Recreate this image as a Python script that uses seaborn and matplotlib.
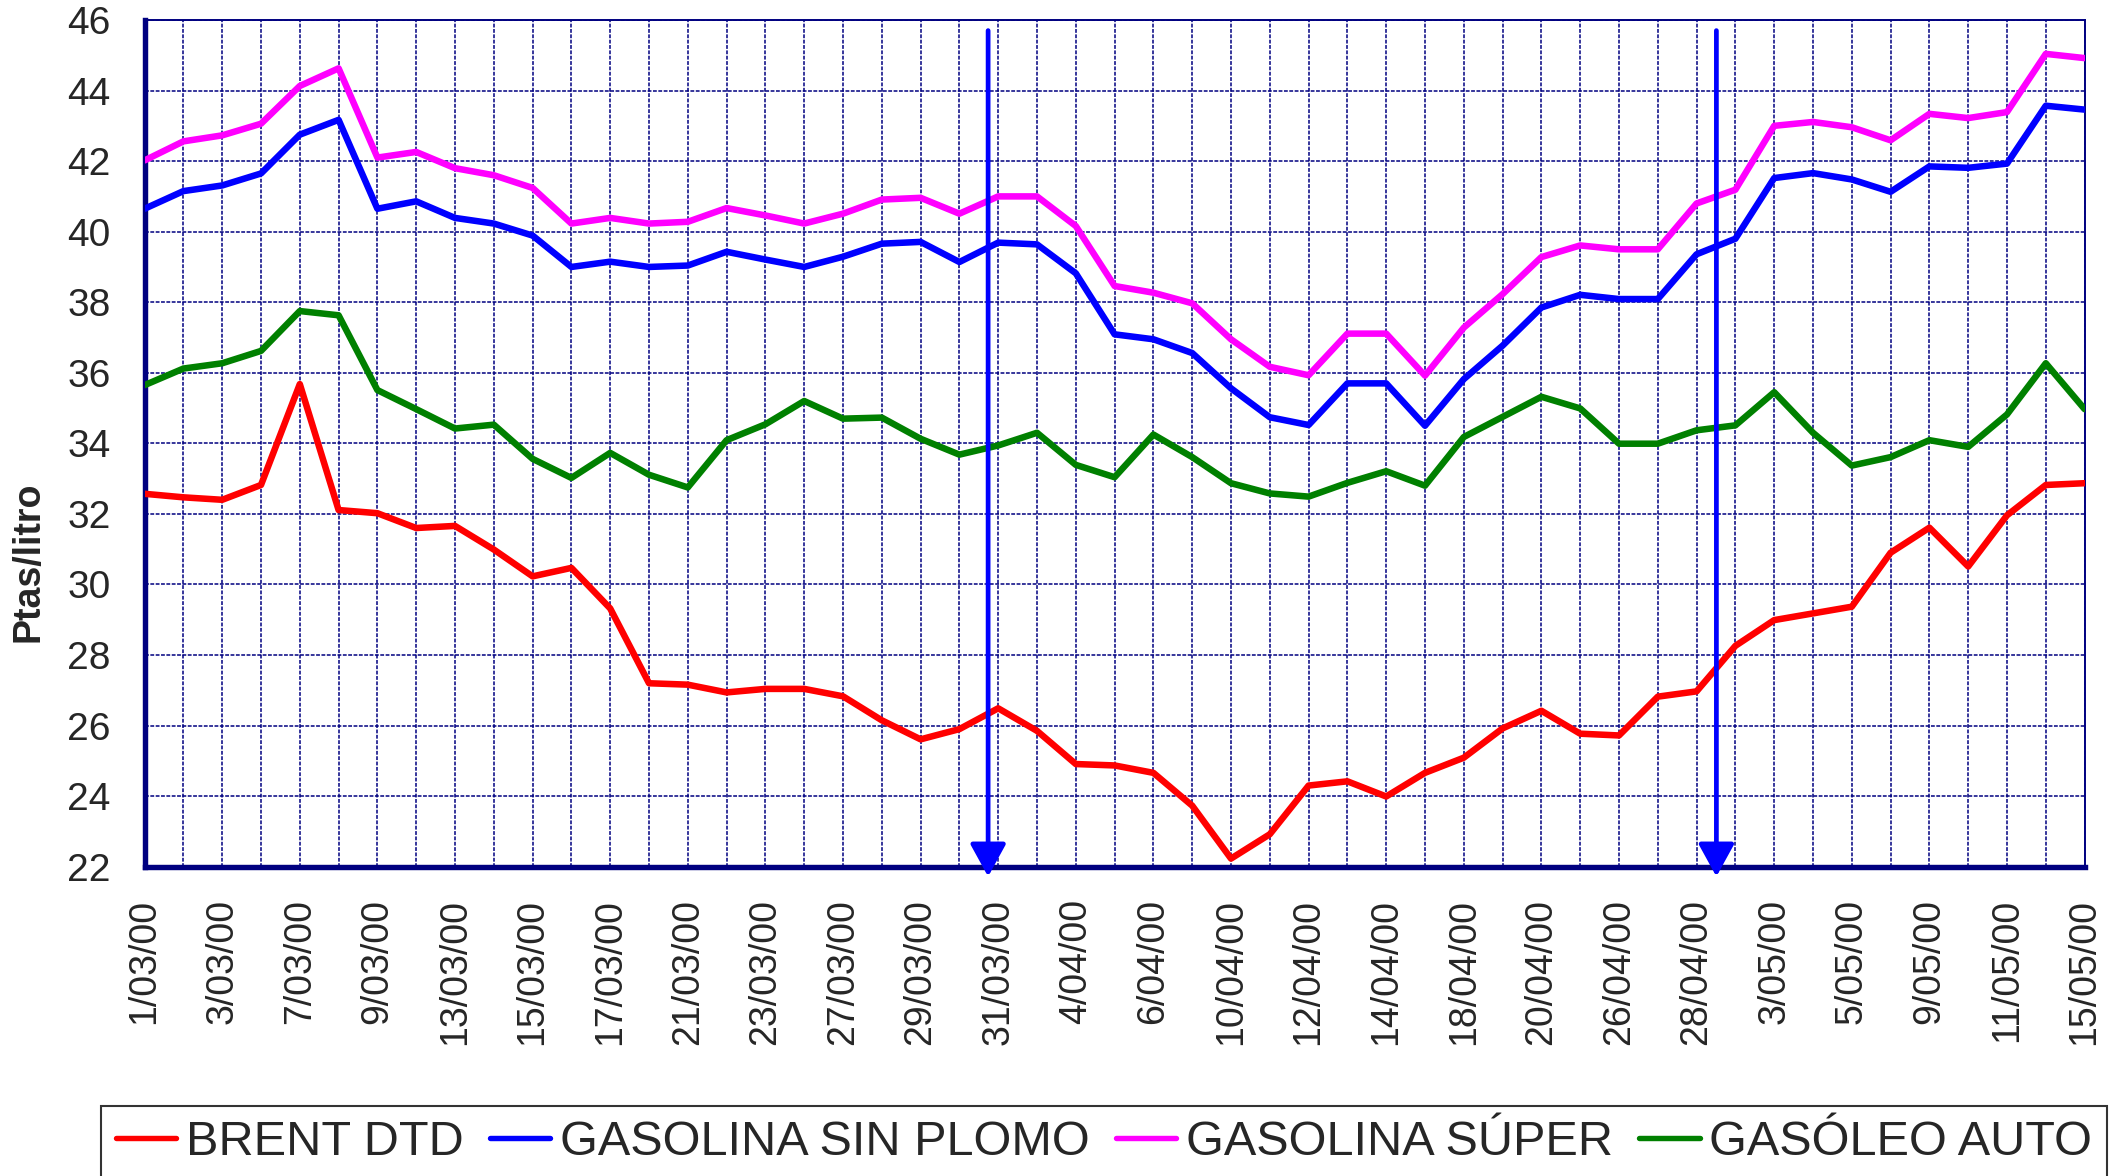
import numpy as np
import pandas as pd
import matplotlib
matplotlib.use("Agg")
import matplotlib.pyplot as plt
import seaborn as sns

# ---------------- data ----------------
dates = ["1/03/00","2/03/00","3/03/00","6/03/00","7/03/00","8/03/00","9/03/00","10/03/00",
         "13/03/00","14/03/00","15/03/00","16/03/00","17/03/00","20/03/00","21/03/00","22/03/00",
         "23/03/00","24/03/00","27/03/00","28/03/00","29/03/00","30/03/00","31/03/00","3/04/00",
         "4/04/00","5/04/00","6/04/00","7/04/00","10/04/00","11/04/00","12/04/00","13/04/00",
         "14/04/00","17/04/00","18/04/00","19/04/00","20/04/00","25/04/00","26/04/00","27/04/00",
         "28/04/00","2/05/00","3/05/00","4/05/00","5/05/00","8/05/00","9/05/00","10/05/00",
         "11/05/00","12/05/00","15/05/00"]

brent = [32.57, 32.47, 32.40, 32.82, 35.68, 32.11, 32.02, 31.60, 31.66, 30.99, 30.23, 30.47,
         29.32, 27.20, 27.16, 26.94, 27.04, 27.04, 26.83, 26.15, 25.61, 25.90, 26.49, 25.85,
         24.91, 24.87, 24.66, 23.73, 22.23, 22.92, 24.30, 24.42, 23.99, 24.66, 25.09, 25.92,
         26.42, 25.77, 25.72, 26.82, 26.97, 28.26, 28.99, 29.18, 29.37, 30.90, 31.61, 30.51,
         31.96, 32.82, 32.87]

sin_plomo = [40.65, 41.15, 41.31, 41.65, 42.75, 43.17, 40.65, 40.86, 40.39, 40.23, 39.89, 39.00,
             39.15, 39.00, 39.04, 39.43, 39.21, 39.00, 39.29, 39.66, 39.71, 39.14, 39.69, 39.64,
             38.82, 37.09, 36.95, 36.56, 35.56, 34.74, 34.52, 35.70, 35.70, 34.50, 35.82, 36.77,
             37.85, 38.21, 38.09, 38.09, 39.36, 39.80, 41.52, 41.66, 41.48, 41.13, 41.85, 41.81,
             41.93, 43.57, 43.46]

super_ = [42.02, 42.56, 42.73, 43.06, 44.13, 44.63, 42.10, 42.26, 41.80, 41.60, 41.24, 40.23,
          40.39, 40.23, 40.28, 40.67, 40.46, 40.23, 40.51, 40.91, 40.96, 40.51, 41.00, 41.00,
          40.16, 38.46, 38.27, 37.97, 36.95, 36.17, 35.93, 37.11, 37.11, 35.92, 37.28, 38.23,
          39.28, 39.61, 39.50, 39.50, 40.80, 41.19, 43.00, 43.11, 42.96, 42.59, 43.34, 43.22,
          43.39, 45.04, 44.92]

gasoleo = [35.65, 36.12, 36.27, 36.62, 37.75, 37.63, 35.51, 34.97, 34.42, 34.53, 33.56, 33.02,
           33.73, 33.11, 32.75, 34.09, 34.54, 35.20, 34.70, 34.73, 34.13, 33.68, 33.94, 34.30,
           33.39, 33.04, 34.25, 33.61, 32.87, 32.58, 32.49, 32.88, 33.21, 32.80, 34.18, 34.75,
           35.32, 34.99, 33.99, 33.99, 34.37, 34.51, 35.45, 34.30, 33.37, 33.61, 34.09, 33.90,
           34.82, 36.27, 34.97]

series_names = ["BRENT DTD", "GASOLINA SIN PLOMO", "GASOLINA SÚPER", "GASÓLEO AUTO"]
series_colors = ["#FF0000", "#0000FF", "#FF00FF", "#008000"]
y_ticks = list(range(22, 47, 2))
arrow_x = [21.74, 40.51]          # position (in day-index units) of the two annotation arrows
arrow_top, arrow_tip = 45.7, 21.72

# ---------------- frame ----------------
n = len(dates)
idx = np.arange(n)
df = pd.concat([
    pd.DataFrame({"idx": idx, "valor": vals, "serie": name})
    for name, vals in zip(series_names, [brent, sin_plomo, super_, gasoleo])
], ignore_index=True)

sns.set_style("white")
plt.rcParams["font.family"] = ["Liberation Sans", "DejaVu Sans"]

W, H = 2123, 1176
fig = plt.figure(figsize=(W / 100, H / 100), dpi=100)
ax = fig.add_axes([144.6 / W, 1 - 866.7 / H, (2084.6 - 144.6) / W, (866.7 - 20) / H])

navy = "#000080"
sns.lineplot(data=df, x="idx", y="valor", hue="serie", hue_order=series_names,
             palette=dict(zip(series_names, series_colors)), linewidth=4.7, ax=ax,
             legend=True, zorder=3, solid_capstyle="round", solid_joinstyle="round")

ax.set_xlim(0, n - 1)
ax.set_ylim(22, 46)
ax.set_xticks(idx)
ax.set_xticklabels([d if i % 2 == 0 else "" for i, d in enumerate(dates)],
                   rotation=90, fontsize=27,
                   family=["Liberation Sans Narrow", "Liberation Sans"])
ax.set_yticks(y_ticks)
ax.set_yticklabels([str(v) for v in y_ticks], fontsize=28)
ax.set_xlabel("")
ax.set_ylabel("")

ax.tick_params(axis="x", direction="inout", length=19.5, width=2.4, color=navy, pad=13.5)
ax.tick_params(axis="y", direction="inout", length=19, width=2.4, color=navy, pad=15)
for t in ax.xaxis.get_major_ticks() + ax.yaxis.get_major_ticks():
    t.tick1line.set_solid_capstyle("round")

ax.grid(True, color=navy, linestyle=(0, (2.5, 1.0)), linewidth=1.1, zorder=0)
ax.set_axisbelow(True)

for side in ["left", "bottom"]:
    ax.spines[side].set_color(navy)
    ax.spines[side].set_linewidth(3.9)
for side in ["top", "right"]:
    ax.spines[side].set_color(navy)
    ax.spines[side].set_linewidth(1.4)

# annotation arrows
for xa in arrow_x:
    ax.annotate("", xy=(xa, arrow_tip), xytext=(xa, arrow_top),
                arrowprops=dict(arrowstyle="-|>,head_length=1.0,head_width=0.55",
                                color="#0000FF", lw=3.4, mutation_scale=20,
                                shrinkA=0, shrinkB=0, capstyle="round"),
                annotation_clip=False, zorder=5)

fig.text(29 / W, 1 - 562 / H, "Ptas/litro", rotation=90, fontsize=27, fontweight="bold",
         ha="center", va="center")

handles, labels = ax.get_legend_handles_labels()
ax.get_legend().remove()
for h in handles:
    h.set_linewidth(3.9)
leg = fig.legend(handles, labels, loc="upper left", ncol=4,
                 bbox_to_anchor=(101 / W, 1 - 1107 / H, (2107 - 101) / W, 0.001),
                 mode="expand", borderaxespad=0, fontsize=35, frameon=True, fancybox=False,
                 handlelength=1.25, handletextpad=0.2, columnspacing=0.3, borderpad=0.3)
leg.get_frame().set_edgecolor("black")
leg.get_frame().set_linewidth(1.5)

fig.savefig("out.png", dpi=100)
